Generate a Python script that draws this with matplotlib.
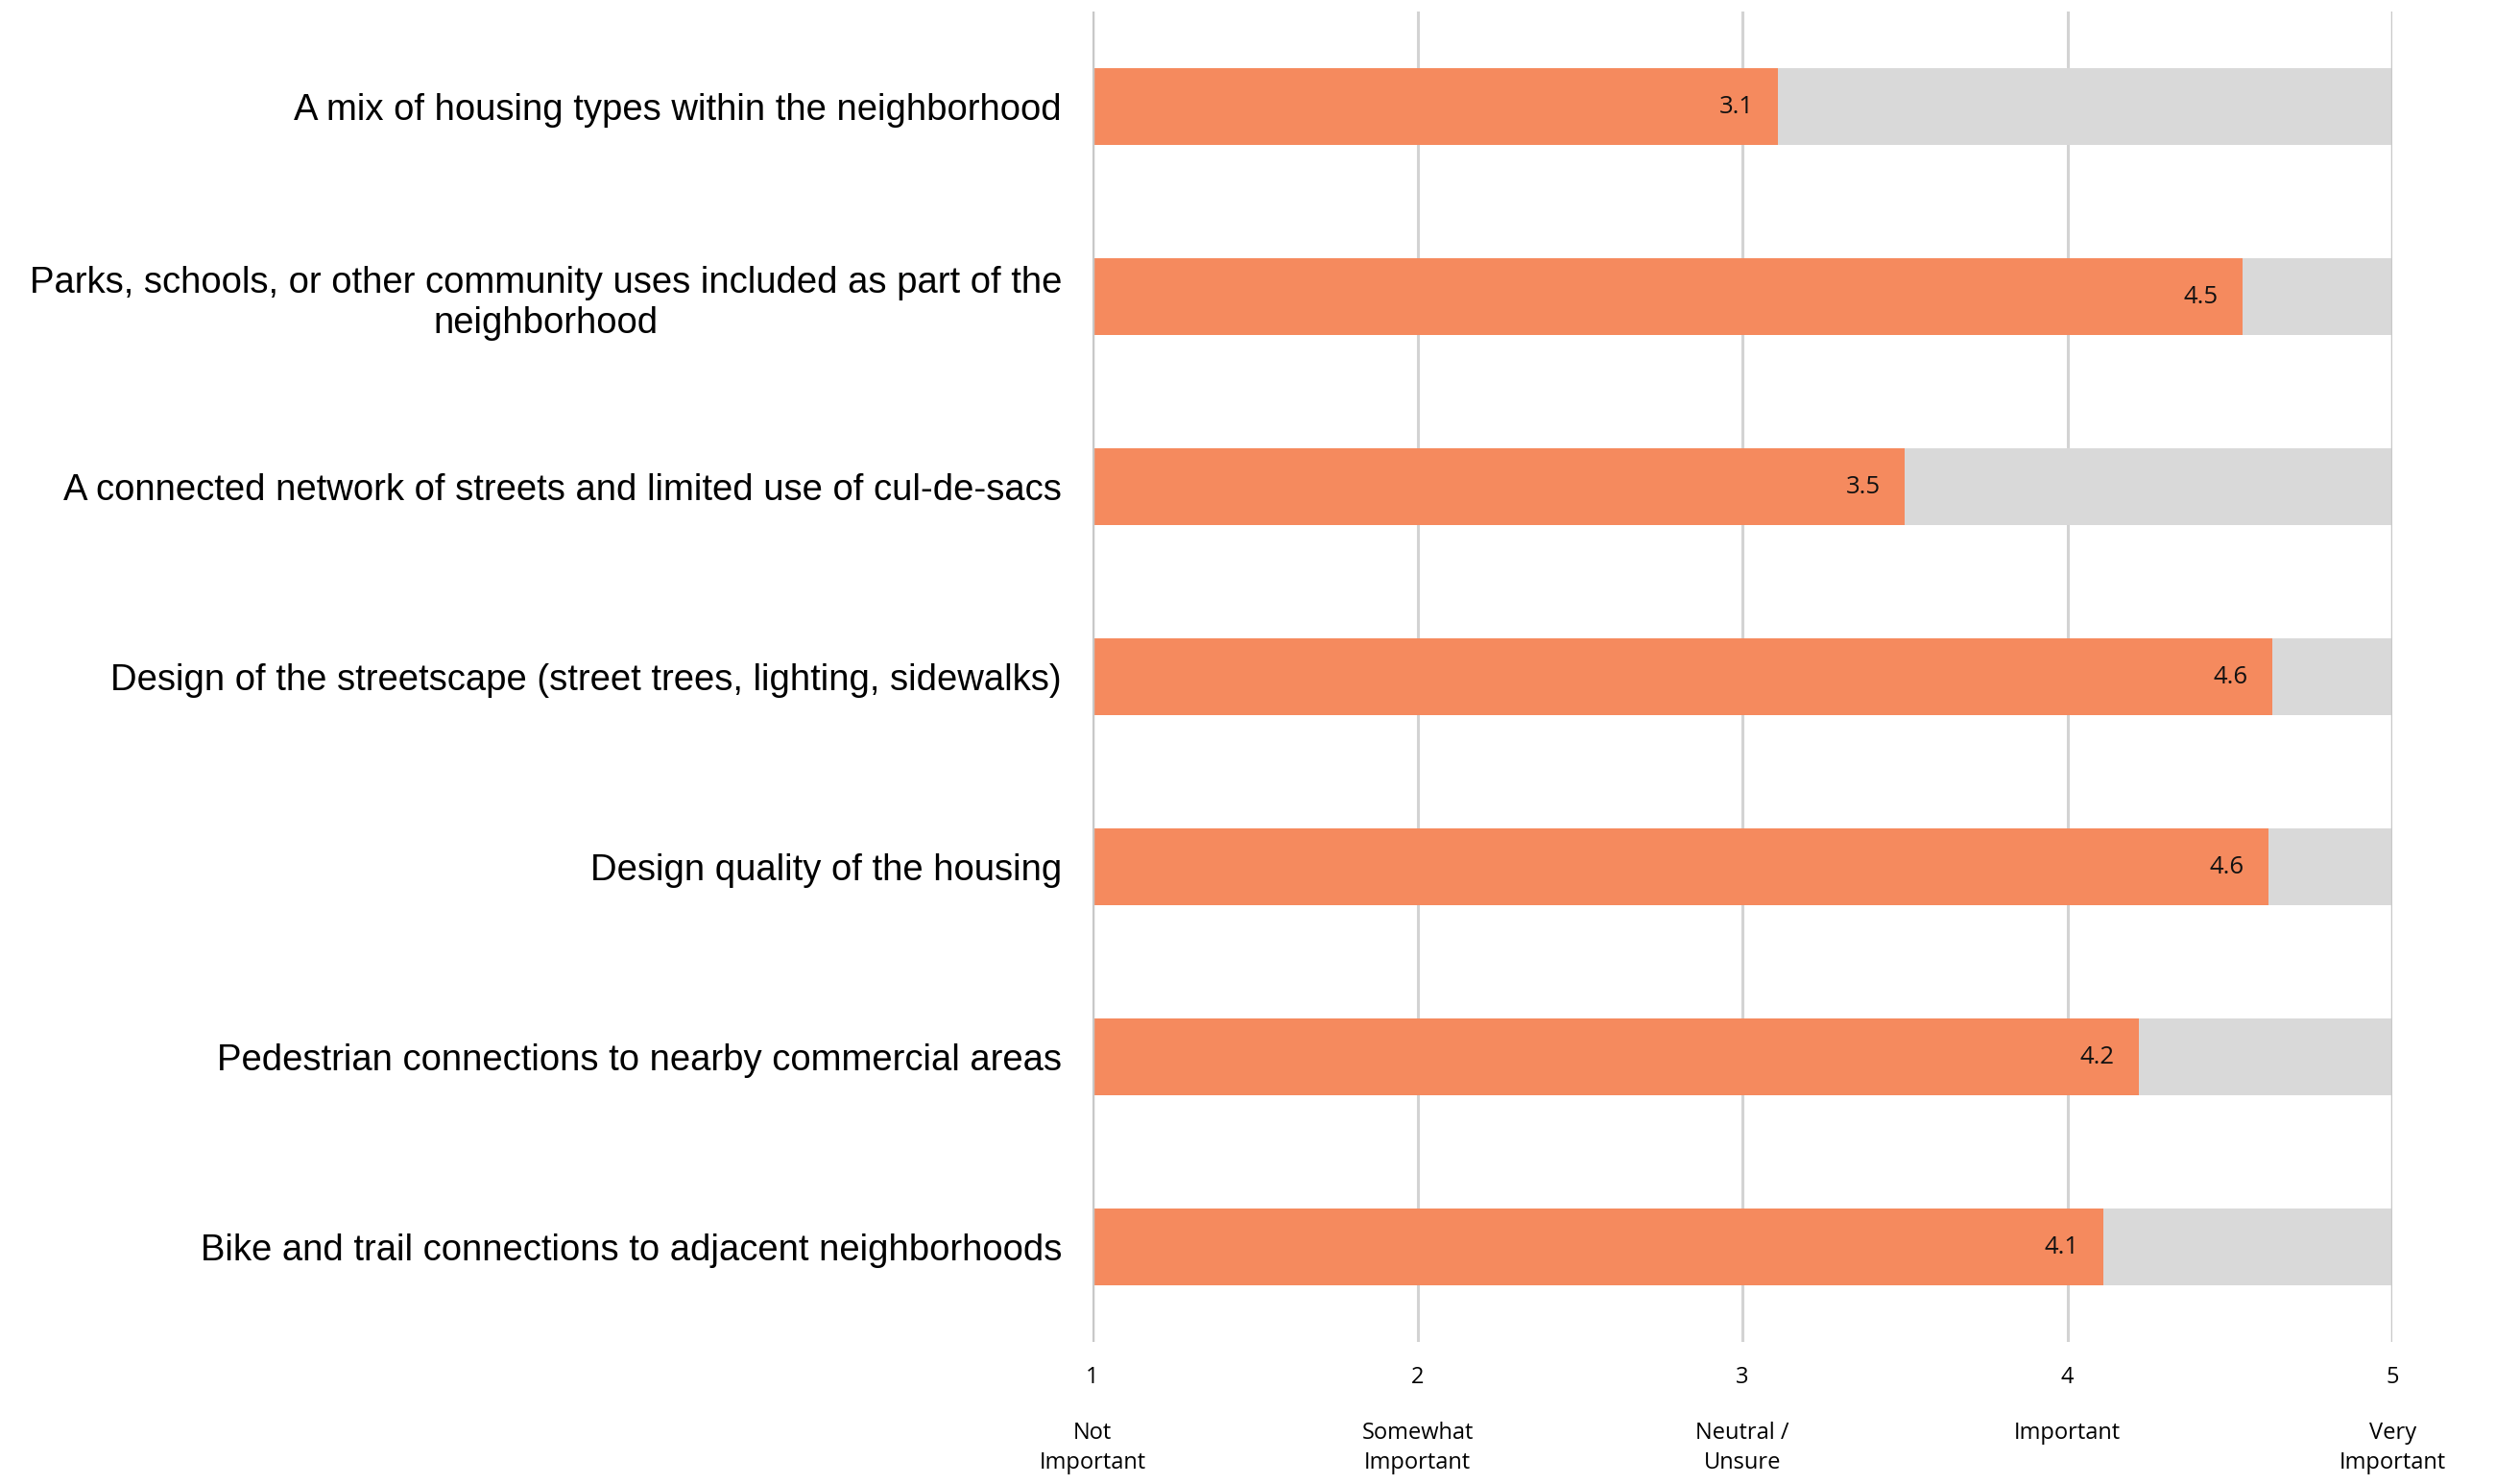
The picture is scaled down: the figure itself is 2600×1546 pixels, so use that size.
import matplotlib.pyplot as plt

# survey items, top to bottom, with average importance score (1-5)
items = [
    'A mix of housing types within the neighborhood',
    'Parks, schools, or other community uses included as part of the\nneighborhood',
    'A connected network of streets and limited use of cul-de-sacs',
    'Design of the streetscape (street trees, lighting, sidewalks)',
    'Design quality of the housing',
    'Pedestrian connections to nearby commercial areas',
    'Bike and trail connections to adjacent neighborhoods',
]
scores = [3.11, 4.54, 3.50, 4.63, 4.62, 4.22, 4.11]

scale_ticks = [1, 2, 3, 4, 5]
scale_names = ['Not\nImportant', 'Somewhat\nImportant', 'Neutral /\nUnsure',
               'Important', 'Very\nImportant']

ORANGE = '#F58A5E'
TRACK = '#D9D9D9'
GRID = '#D3D3D3'

fig = plt.figure(figsize=(26, 15.46), dpi=100)
ax = fig.add_axes([0.4377, 0.0957, 0.5208, 0.8965])

ypos = list(range(len(items)))

# grey track for the full 1-5 range, then the score on top
ax.barh(ypos, [scale_ticks[-1] - scale_ticks[0]] * len(items), left=scale_ticks[0],
        height=0.4, color=TRACK, zorder=2)
ax.barh(ypos, [s - scale_ticks[0] for s in scores], left=scale_ticks[0],
        height=0.4, color=ORANGE, zorder=3)

for y, s in zip(ypos, scores):
    ax.text(s - 0.075, y, f'{s:.1f}', ha='right', va='center',
            fontsize=18.5, family='Open Sans', color='#111111', zorder=4)

ax.set_xlim(scale_ticks[0], scale_ticks[-1])
ax.set_ylim(len(items) - 0.5, -0.5)

ax.set_yticks(ypos)
ax.set_yticklabels(items, fontsize=27.5, family='Liberation Sans',
                   multialignment='center', linespacing=1.2)
ax.tick_params(axis='y', length=0, pad=23)

ax.set_xticks(scale_ticks)
ax.set_xticklabels([str(t) for t in scale_ticks], fontsize=17, family='Open Sans')
ax.tick_params(axis='x', length=0, pad=18)

for t, name in zip(scale_ticks, scale_names):
    ax.text(t, -0.06, name, transform=ax.get_xaxis_transform(), ha='center',
            va='top', fontsize=17, family='Open Sans', linespacing=1.4)

for t in scale_ticks:
    ax.axvline(t, color=GRID, linewidth=2.2, zorder=1)
ax.axvline(scale_ticks[0], color='#C8C8C8', linewidth=2.5, zorder=5)
ax.axvline(scale_ticks[-1], color='#C8C8C8', linewidth=2.5, zorder=5)

for sp in ax.spines.values():
    sp.set_visible(False)

fig.savefig('out.png', dpi=100)
